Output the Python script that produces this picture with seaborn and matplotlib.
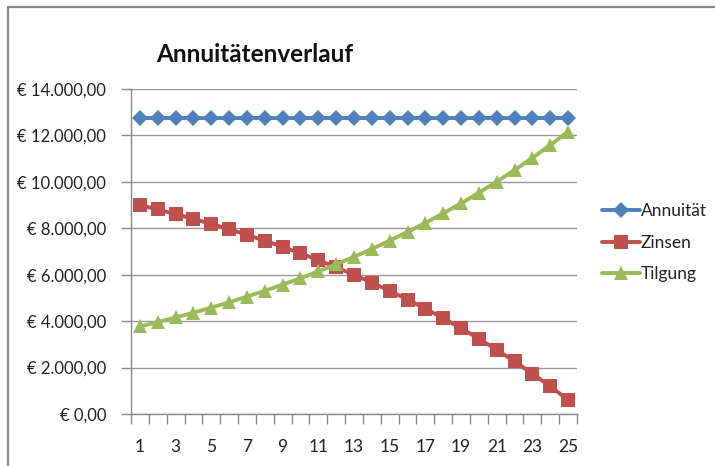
import matplotlib
matplotlib.use("Agg")
import matplotlib.pyplot as plt
from matplotlib.lines import Line2D
from matplotlib.ticker import FuncFormatter, FixedLocator
import seaborn as sns
import pandas as pd

# Loan schedule per year (EUR)
jahre = list(range(1, 26))
annuitaet = [12771.38] * 25
zinsen = [9000.00, 8811.43, 8613.43, 8405.54, 8187.24, 7958.04, 7717.37, 7464.67,
          7199.33, 6920.73, 6628.20, 6321.04, 5998.52, 5659.88, 5304.31, 4930.95,
          4538.93, 4127.31, 3695.10, 3241.29, 2764.79, 2264.46, 1739.11, 1187.50, 608.30]
tilgung = [3771.38, 3959.95, 4157.95, 4365.84, 4584.14, 4813.34, 5054.01, 5306.71,
           5572.05, 5850.65, 6143.18, 6450.34, 6772.86, 7111.50, 7467.07, 7840.43,
           8232.45, 8644.07, 9076.28, 9530.09, 10006.59, 10506.92, 11032.27, 11583.88, 12163.08]
serien = ["Annuität", "Zinsen", "Tilgung"]
farben = ["#4F81BD", "#C0504D", "#9BBB59"]
marker = ["D", "s", "^"]
groessen = [8.5, 10.5, 10.5]

df = pd.DataFrame({
    "Jahr": jahre * 3,
    "Betrag": annuitaet + zinsen + tilgung,
    "Serie": [serien[0]] * 25 + [serien[1]] * 25 + [serien[2]] * 25,
})

sns.set_theme(style="white")
plt.rcParams["font.family"] = ["Lato", "DejaVu Sans"]

fig = plt.figure(figsize=(7.15, 4.66), dpi=100)
ax = fig.add_axes([131 / 715, 1 - 414 / 466, (577 - 131) / 715, (414 - 89) / 466])

for name, col, m, ms in zip(serien, farben, marker, groessen):
    sub = df[df["Serie"] == name]
    sns.lineplot(data=sub, x="Jahr", y="Betrag", ax=ax, color=col, marker=m,
                 markersize=ms, markeredgewidth=0, linewidth=2.8, label=name)

ax.set_xlim(0.5, 25.5)
ax.set_ylim(0, 14000)
ax.set_xlabel("")
ax.set_ylabel("")

ax.yaxis.set_major_locator(FixedLocator(range(0, 14001, 2000)))
ax.yaxis.set_major_formatter(FuncFormatter(
    lambda v, p: "€ " + f"{v:,.2f}".replace(",", "X").replace(".", ",").replace("X", ".")))
ax.grid(axis="y", color="#999999", linewidth=1.0)
ax.set_axisbelow(True)

ax.set_xticks(range(1, 26, 2))
ax.set_xticks([i + 0.5 for i in range(0, 26)], minor=True)
ax.tick_params(axis="x", which="major", length=0, pad=18, labelsize=12.5, labelcolor="#222222")
ax.tick_params(axis="x", which="minor", length=7, width=1, color="#888888", bottom=True)
ax.tick_params(axis="y", which="major", length=7, width=1, color="#888888", left=True,
               pad=11, labelsize=12, labelcolor="#222222")

for s in ["top", "right"]:
    ax.spines[s].set_visible(False)
for s in ["left", "bottom"]:
    ax.spines[s].set_color("#888888")
    ax.spines[s].set_linewidth(1.0)

leg = ax.legend(loc="center left", bbox_to_anchor=(1.04, 0.527), frameon=False,
                fontsize=12.5, handlelength=2.2, handletextpad=0.05, labelspacing=0.9,
                borderaxespad=0)
for t in leg.get_texts():
    t.set_color("#222222")

fig.text(255 / 715, 1 - 55 / 466, "Annuitätenverlauf", ha="center", va="center",
         fontsize=17.5, fontweight="bold", color="#111111")

# Chart frame
fig.add_artist(Line2D([8 / 715, 1], [1 - 7 / 466, 1 - 7 / 466], color="#888888",
                      linewidth=1.6, transform=fig.transFigure))
fig.add_artist(Line2D([8 / 715, 8 / 715], [0, 1 - 7 / 466], color="#888888",
                      linewidth=1.6, transform=fig.transFigure))

fig.savefig("out.png", dpi=100)
